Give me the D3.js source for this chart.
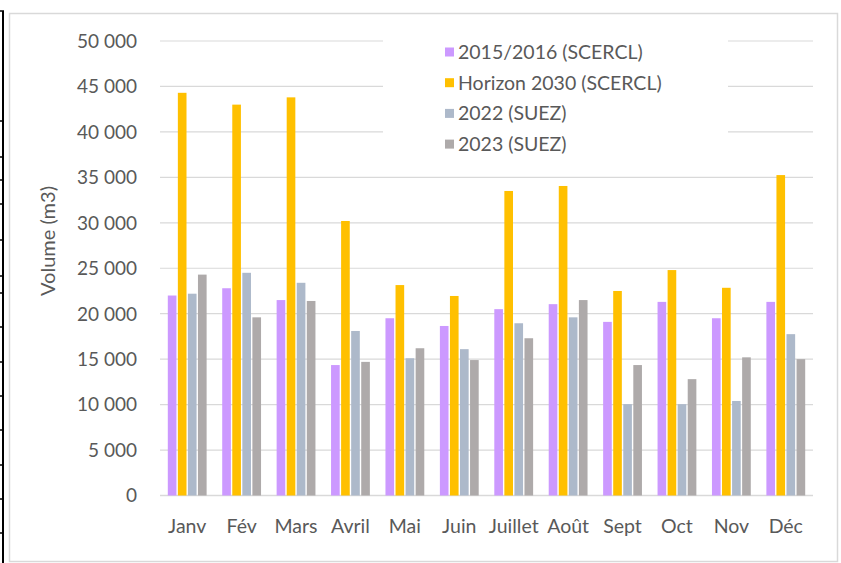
<!DOCTYPE html>
<html>
<head>
<meta charset="utf-8">
<script src="https://cdn.jsdelivr.net/npm/d3@7"></script>
<style>
  html, body { margin: 0; padding: 0; background: #fff; }
  svg { display: block; }
  text { font-family: Lato, "Open Sans", sans-serif; fill: #595959; }
</style>
</head>
<body>
<svg id="chart" width="841" height="563"></svg>
<script>
// data
const months = ['Janv', 'Fév', 'Mars', 'Avril', 'Mai', 'Juin', 'Juillet', 'Août', 'Sept', 'Oct', 'Nov', 'Déc'];
const seriesNames = ['2015/2016 (SCERCL)', 'Horizon 2030 (SCERCL)', '2022 (SUEZ)', '2023 (SUEZ)'];
const seriesColors = ['#cc99ff', '#ffc000', '#adb9ca', '#aeaaaa'];
const s2015 = [22000, 22800, 21500, 14350, 19500, 18650, 20500, 21050, 19100, 21300, 19500, 21300];
const s2030 = [44300, 43000, 43800, 30200, 23150, 21950, 33500, 34050, 22500, 24800, 22850, 35250];
const s2022 = [22200, 24500, 23400, 18100, 15100, 16100, 18950, 19600, 10050, 10050, 10400, 17750];
const s2023 = [24300, 19600, 21400, 14700, 16200, 14900, 17300, 21500, 14350, 12800, 15200, 15000];
const yTicks = [0, 5000, 10000, 15000, 20000, 25000, 30000, 35000, 40000, 45000, 50000];

const allSeries = [s2015, s2030, s2022, s2023];

const fr = d3.formatLocale({decimal: ',', thousands: '\u00a0', grouping: [3], currency: ['', '']});
const fmt = fr.format(',d');

const svg = d3.select('#chart');

// black cell border on the far left (cropped document table)
const leftMarks = [11, 121, 157, 180, 204, 240, 276, 293, 327, 362, 396, 430, 465, 499, 533];
svg.append('line')
    .attr('x1', 3).attr('x2', 3).attr('y1', 11).attr('y2', 563)
    .attr('stroke', '#000').attr('stroke-width', 2);
svg.selectAll('.lm')
    .data(leftMarks)
    .enter().append('line')
    .attr('x1', 0).attr('x2', 4)
    .attr('y1', d => d).attr('y2', d => d)
    .attr('stroke', '#000').attr('stroke-width', 1.5);

// chart area frame
svg.append('rect')
    .attr('x', 9.5).attr('y', 13.5).attr('width', 828).attr('height', 548)
    .attr('fill', '#fff').attr('stroke', '#d9d9d9').attr('stroke-width', 1.5);

const plotLeft = 160, plotRight = 813, plotTop = 41, plotBottom = 495.5;

const x0 = d3.scaleBand().domain(months).range([plotLeft, plotRight]).padding(0);
const groupPad = 7.8;
const x1 = d3.scaleBand().domain(d3.range(seriesNames.length))
    .range([groupPad, x0.bandwidth() - groupPad]).paddingInner(0.14);
const y = d3.scaleLinear().domain([0, 50000]).range([plotBottom, plotTop]);

// gridlines
svg.append('g')
    .selectAll('line')
    .data(yTicks)
    .enter().append('line')
    .attr('x1', plotLeft).attr('x2', plotRight)
    .attr('y1', d => y(d)).attr('y2', d => y(d))
    .attr('stroke', '#d9d9d9').attr('stroke-width', d => d === 0 ? 1.5 : 1.2);

// tick labels
svg.append('g')
    .selectAll('text')
    .data(yTicks)
    .enter().append('text')
    .attr('x', 137)
    .attr('y', d => y(d))
    .attr('dy', '0.36em')
    .attr('text-anchor', 'end')
    .style('font-size', '19px')
    .text(d => fmt(d));

// bars
const groups = svg.append('g')
    .selectAll('g')
    .data(allSeries)
    .enter().append('g')
    .attr('fill', (d, i) => seriesColors[i]);

groups.selectAll('rect')
    .data((d, i) => d.map((v, j) => ({v: v, m: months[j], s: i})))
    .enter().append('rect')
    .attr('x', d => x0(d.m) + x1(d.s))
    .attr('width', x1.bandwidth())
    .attr('y', d => y(d.v))
    .attr('height', d => y(0) - y(d.v));

// month labels
svg.append('g')
    .selectAll('text')
    .data(months)
    .enter().append('text')
    .attr('x', d => x0(d) + x0.bandwidth() / 2)
    .attr('y', 533)
    .attr('text-anchor', 'middle')
    .style('font-size', '19.5px')
    .text(d => d);

// y axis title
svg.append('text')
    .attr('transform', 'translate(55,241) rotate(-90)')
    .attr('text-anchor', 'middle')
    .style('font-size', '20px')
    .text('Volume (m3)');

// legend, on a white box over the gridlines
const legend = svg.append('g');
legend.append('rect')
    .attr('x', 383).attr('y', 30).attr('width', 345).attr('height', 130)
    .attr('fill', '#fff');

const item = legend.selectAll('g')
    .data(seriesNames)
    .enter().append('g')
    .attr('transform', (d, i) => 'translate(445,' + (52 + i * 30.7) + ')');

item.append('rect')
    .attr('x', 0).attr('y', -4.5)
    .attr('width', 9).attr('height', 9)
    .attr('fill', (d, i) => seriesColors[i]);

item.append('text')
    .attr('x', 13)
    .attr('dy', '0.36em')
    .style('font-size', '19.5px')
    .text(d => d);
</script>
</body>
</html>
